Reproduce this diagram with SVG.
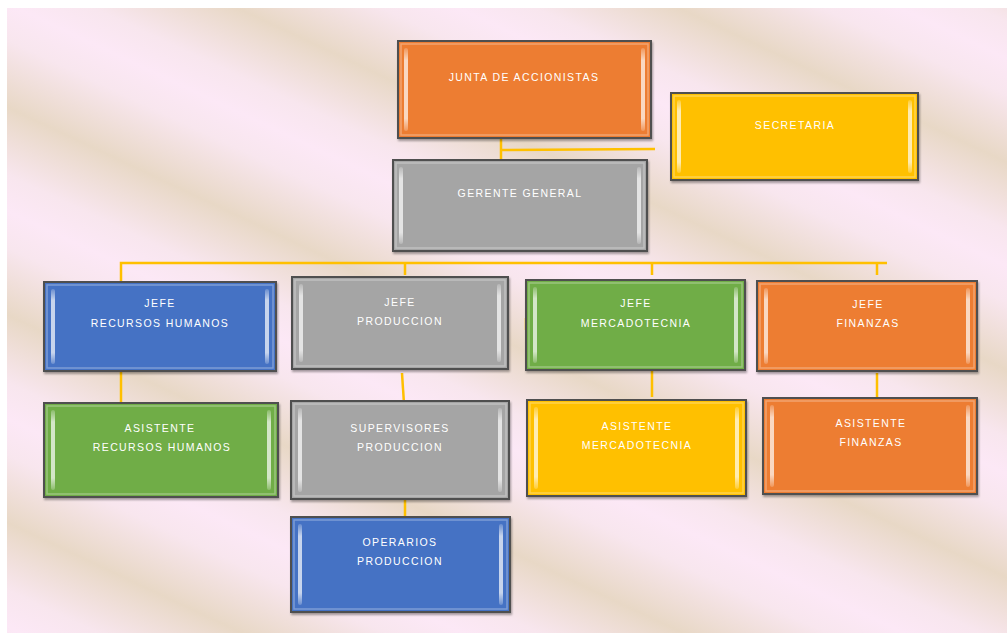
<svg xmlns="http://www.w3.org/2000/svg" width="1007" height="633" viewBox="0 0 1007 633">
  <defs>
    <linearGradient id="bg" gradientUnits="userSpaceOnUse" x1="0" y1="0" x2="-40" y2="85" spreadMethod="reflect">
      <stop offset="0" stop-color="#fce8f6"/>
      <stop offset="0.35" stop-color="#f8e6ee"/>
      <stop offset="1" stop-color="#e8d8c6"/>
    </linearGradient>
    <linearGradient id="bar" x1="0" y1="0" x2="0" y2="1">
      <stop offset="0" stop-color="#ffffff" stop-opacity="0.2"/>
      <stop offset="0.15" stop-color="#ffffff" stop-opacity="0.7"/>
      <stop offset="0.85" stop-color="#ffffff" stop-opacity="0.7"/>
      <stop offset="1" stop-color="#ffffff" stop-opacity="0.2"/>
    </linearGradient>
    <filter id="shadow" x="-5%" y="-5%" width="115%" height="120%">
      <feDropShadow dx="1" dy="2" stdDeviation="1.2" flood-color="#000" flood-opacity="0.35"/>
    </filter>
  </defs>
  <style>
    .box { stroke: #505050; stroke-width: 2; filter: url(#shadow); }
    .orange { fill: #ed7d31; }
    .yellow { fill: #ffc000; }
    .gray { fill: #a5a5a5; }
    .blue { fill: #4472c4; }
    .green { fill: #70ad47; }
    .hl { fill: url(#bar); }
    .edge { fill: none; stroke: #ffffff; stroke-opacity: 0.3; stroke-width: 1.5; }
    .conn { stroke: #ffc000; stroke-width: 2.5; fill: none; }
    text { font-family: "Liberation Sans", Arial, sans-serif; font-size: 10.5px; fill: #ffffff; text-anchor: middle; letter-spacing: 1.4px; }
  </style>

  <rect x="0" y="0" width="1007" height="633" fill="#ffffff"/>
  <rect x="7" y="8" width="1000" height="625" fill="url(#bg)"/>

  <g id="connectors">
    <path class="conn" d="M501 138 V160 M501 150 L655 149"/>
    <path class="conn" d="M121 282 V263 H887 M405 263 V275 M652 263 V275 M877 263 V275"/>
    <path class="conn" d="M121 371 V403"/>
    <path class="conn" d="M402 373 L404 404"/>
    <path class="conn" d="M405 499 V517"/>
    <path class="conn" d="M652 370 V397"/>
    <path class="conn" d="M877 373 V398"/>
    <path class="conn" d="M526 318 V330"/>
  </g>

  <g id="junta">
    <rect class="box orange" x="398" y="41" width="253" height="97"/>
    <rect class="edge" x="401" y="44" width="247" height="91"/>
    <rect class="hl" x="404" y="48" width="4" height="83" rx="2"/>
    <rect class="hl" x="641" y="48" width="4" height="83" rx="2"/>
    <text x="524" y="81">JUNTA DE ACCIONISTAS</text>
  </g>

  <g id="secretaria">
    <rect class="box yellow" x="671" y="93" width="247" height="87"/>
    <rect class="edge" x="674" y="96" width="241" height="81"/>
    <rect class="hl" x="677" y="100" width="4" height="73" rx="2"/>
    <rect class="hl" x="908" y="100" width="4" height="73" rx="2"/>
    <text x="795" y="129">SECRETARIA</text>
  </g>

  <g id="gerente">
    <rect class="box gray" x="393" y="160" width="254" height="91"/>
    <rect class="edge" x="396" y="163" width="248" height="85"/>
    <rect class="hl" x="399" y="167" width="4" height="77" rx="2"/>
    <rect class="hl" x="637" y="167" width="4" height="77" rx="2"/>
    <text x="520" y="197">GERENTE GENERAL</text>
  </g>

  <g id="jefe-rh">
    <rect class="box blue" x="44" y="282" width="232" height="89"/>
    <rect class="edge" x="47" y="285" width="226" height="83"/>
    <rect class="hl" x="51" y="289" width="4" height="75" rx="2"/>
    <rect class="hl" x="265" y="289" width="4" height="75" rx="2"/>
    <text x="160" y="307">JEFE</text>
    <text x="160" y="327">RECURSOS HUMANOS</text>
  </g>

  <g id="jefe-produccion">
    <rect class="box gray" x="292" y="277" width="216" height="92"/>
    <rect class="edge" x="295" y="280" width="210" height="86"/>
    <rect class="hl" x="299" y="284" width="4" height="78" rx="2"/>
    <rect class="hl" x="497" y="284" width="4" height="78" rx="2"/>
    <text x="400" y="306">JEFE</text>
    <text x="400" y="325">PRODUCCION</text>
  </g>

  <g id="jefe-mercadotecnia">
    <rect class="box green" x="526" y="280" width="219" height="90"/>
    <rect class="edge" x="529" y="283" width="213" height="84"/>
    <rect class="hl" x="533" y="287" width="4" height="76" rx="2"/>
    <rect class="hl" x="734" y="287" width="4" height="76" rx="2"/>
    <text x="636" y="307">JEFE</text>
    <text x="636" y="327">MERCADOTECNIA</text>
  </g>

  <g id="jefe-finanzas">
    <rect class="box orange" x="757" y="281" width="220" height="90"/>
    <rect class="edge" x="760" y="284" width="214" height="84"/>
    <rect class="hl" x="764" y="288" width="4" height="76" rx="2"/>
    <rect class="hl" x="966" y="288" width="4" height="76" rx="2"/>
    <text x="868" y="308">JEFE</text>
    <text x="868" y="327">FINANZAS</text>
  </g>

  <g id="asistente-rh">
    <rect class="box green" x="44" y="403" width="234" height="94"/>
    <rect class="edge" x="47" y="406" width="228" height="88"/>
    <rect class="hl" x="51" y="410" width="4" height="80" rx="2"/>
    <rect class="hl" x="267" y="410" width="4" height="80" rx="2"/>
    <text x="160" y="432">ASISTENTE</text>
    <text x="162" y="451">RECURSOS HUMANOS</text>
  </g>

  <g id="supervisores">
    <rect class="box gray" x="291" y="401" width="218" height="98"/>
    <rect class="edge" x="294" y="404" width="212" height="92"/>
    <rect class="hl" x="298" y="408" width="4" height="84" rx="2"/>
    <rect class="hl" x="498" y="408" width="4" height="84" rx="2"/>
    <text x="400" y="432">SUPERVISORES</text>
    <text x="400" y="451">PRODUCCION</text>
  </g>

  <g id="operarios">
    <rect class="box blue" x="291" y="517" width="219" height="95"/>
    <rect class="edge" x="294" y="520" width="213" height="89"/>
    <rect class="hl" x="298" y="524" width="4" height="81" rx="2"/>
    <rect class="hl" x="499" y="524" width="4" height="81" rx="2"/>
    <text x="400" y="546">OPERARIOS</text>
    <text x="400" y="565">PRODUCCION</text>
  </g>

  <g id="asistente-mercadotecnia">
    <rect class="box yellow" x="527" y="400" width="219" height="96"/>
    <rect class="edge" x="530" y="403" width="213" height="90"/>
    <rect class="hl" x="534" y="407" width="4" height="82" rx="2"/>
    <rect class="hl" x="735" y="407" width="4" height="82" rx="2"/>
    <text x="637" y="430">ASISTENTE</text>
    <text x="637" y="449">MERCADOTECNIA</text>
  </g>

  <g id="asistente-finanzas">
    <rect class="box orange" x="763" y="398" width="214" height="96"/>
    <rect class="edge" x="766" y="401" width="208" height="90"/>
    <rect class="hl" x="770" y="405" width="4" height="82" rx="2"/>
    <rect class="hl" x="966" y="405" width="4" height="82" rx="2"/>
    <text x="871" y="427">ASISTENTE</text>
    <text x="871" y="446">FINANZAS</text>
  </g>
</svg>
